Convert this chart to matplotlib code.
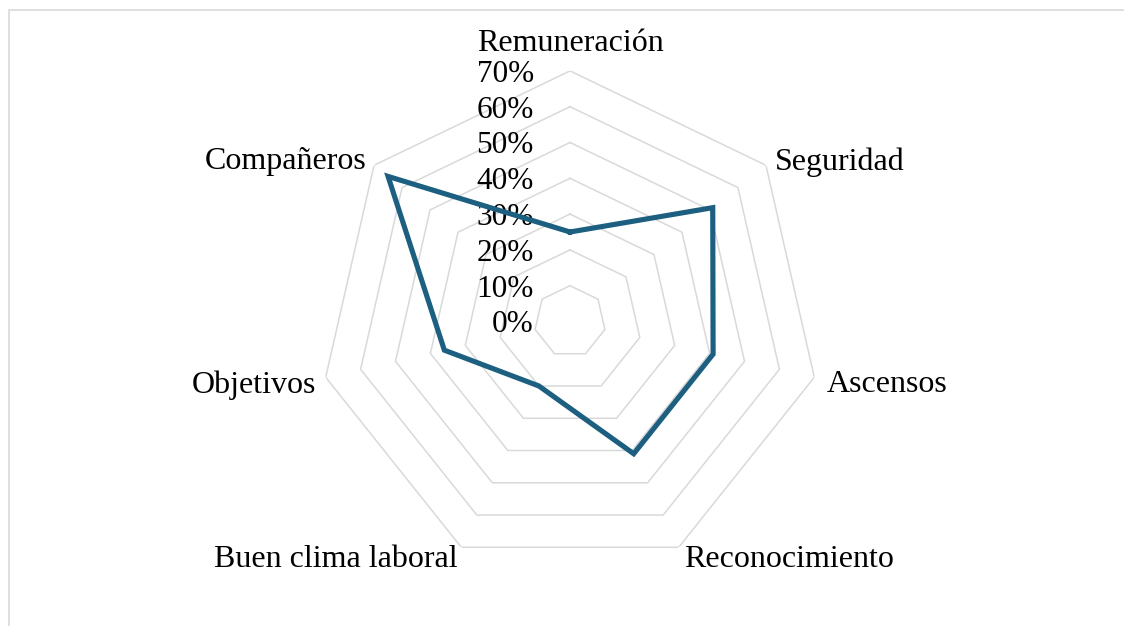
import numpy as np
import matplotlib
matplotlib.use("Agg")
from matplotlib import pyplot as plt
from matplotlib.patches import Rectangle

# radar data (percent), clockwise from the top
categories = ["Remuneración", "Seguridad", "Ascensos", "Reconocimiento",
              "Buen clima laboral", "Objetivos", "Compañeros"]
values = [25, 51, 41, 41, 20, 36, 65]
ring_levels = [10, 20, 30, 40, 50, 60, 70]
tick_levels = [0, 10, 20, 30, 40, 50, 60, 70]

# label placement (offset in points from the outer vertex, alignment)
label_style = [
    ((0, 19.5), "center"),
    ((6.5, 2.5), "left"),
    ((8.6, -5.5), "left"),
    ((3.6, -9), "left"),
    ((-2.9, -9), "right"),
    ((-7.2, -5.5), "right"),
    ((-5.8, 2.5), "right"),
]

line_color = "#1c5f80"
grid_color = "#d9d9d9"

plt.rcParams["font.family"] = ["Liberation Serif", "DejaVu Serif"]

W, H = 1124, 626
fig = plt.figure(figsize=(W / 100, H / 100), dpi=100)

# thin chart-area border (left and top visible, rest runs off the picture)
fig.patches.append(Rectangle((9 / W, -0.05), 1.2, (H - 10) / H + 0.05,
                             transform=fig.transFigure, fill=False,
                             edgecolor=grid_color, linewidth=1.2))

cx, cy, R = 570, 321.5, 250.6
ax = fig.add_axes([(cx - R) / W, (H - cy - R) / H, 2 * R / W, 2 * R / H],
                  projection="polar")
ax.set_theta_zero_location("N")
ax.set_theta_direction(-1)
ax.set_ylim(0, 70)
ax.grid(False)
ax.spines["polar"].set_visible(False)
ax.set_xticks([])
ax.set_yticks([])
ax.patch.set_alpha(0)

n = len(categories)
angles = np.linspace(0, 2 * np.pi, n, endpoint=False)
closed = np.append(angles, angles[0])

for lvl in ring_levels:
    ax.plot(closed, [lvl] * (n + 1), color=grid_color, lw=1.1, zorder=1)

ax.plot(closed, values + values[:1], color=line_color, lw=3.7,
        solid_joinstyle="miter", zorder=5, clip_on=False)

for lvl in tick_levels:
    ax.annotate(f"{lvl}%", xy=(0, lvl), xytext=(-26, -2.5), textcoords="offset points",
                ha="right", va="center", fontsize=22.5, color="black", zorder=3,
                annotation_clip=False)

for ang, name, (off, ha) in zip(angles, categories, label_style):
    ax.annotate(name, xy=(ang, 70), xytext=off, textcoords="offset points",
                ha=ha, va="center", fontsize=23, color="black",
                annotation_clip=False)

fig.savefig("out.png", dpi=100)
